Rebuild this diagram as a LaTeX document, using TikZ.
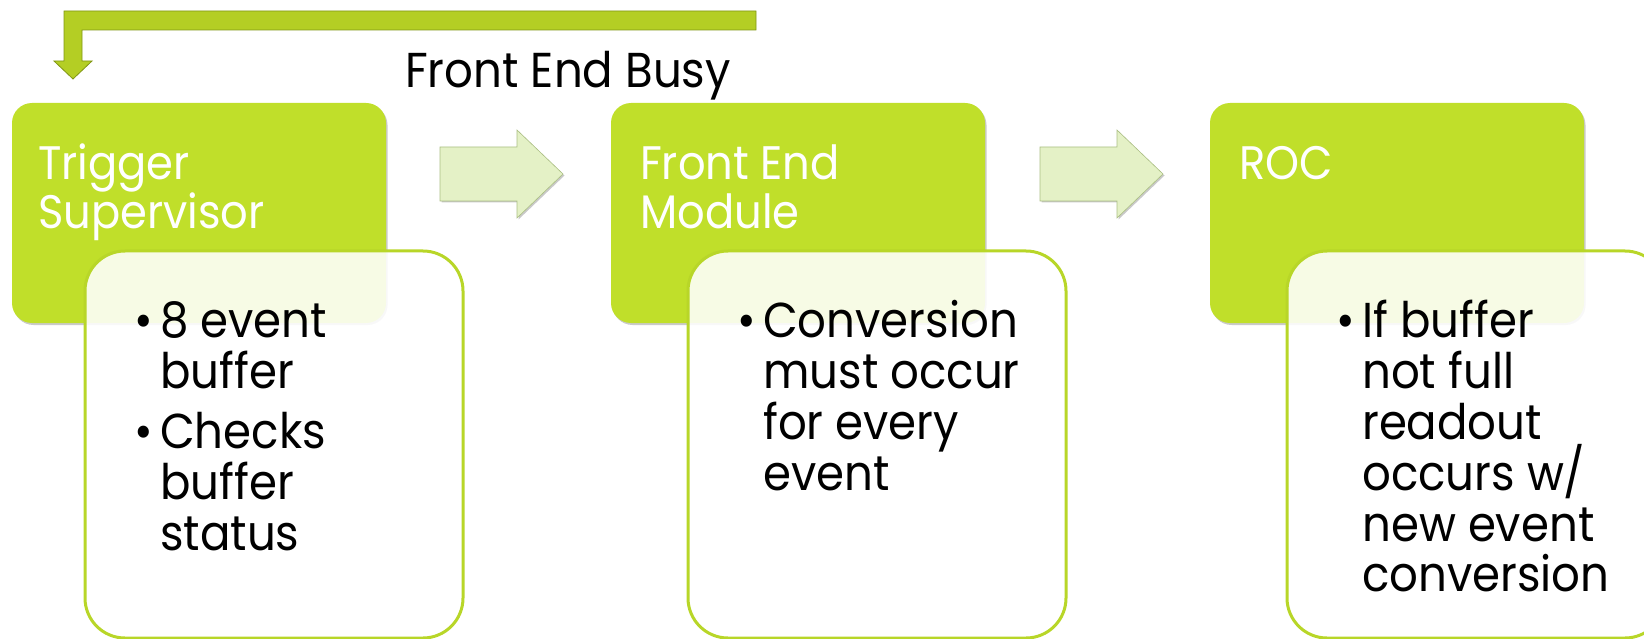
\documentclass[tikz,border=0pt]{standalone}
\usepackage{fontspec}
\setmainfont{Poppins}[FakeStretch=0.92]
\usetikzlibrary{shadows}

\definecolor{leaf}{RGB}{192,223,42}
\definecolor{rim}{RGB}{184,214,40}
\definecolor{bar}{RGB}{180,206,36}
\definecolor{bardark}{RGB}{128,150,20}
\definecolor{pale}{RGB}{228,241,198}
\definecolor{paleedge}{RGB}{170,190,130}

\tikzset{
  headbox/.style={rectangle, fill=leaf, rounded corners=20pt, inner sep=0pt, outer sep=0pt,
    minimum width=374pt, minimum height=220pt,
    drop shadow={shadow xshift=1.5pt, shadow yshift=-2pt, opacity=0.35, fill=black!60}},
  card/.style={rectangle, fill=white, fill opacity=0.88, draw=rim, draw opacity=1,
    line width=3pt, rounded corners=40pt, inner sep=0pt, outer sep=0pt,
    minimum width=378pt, minimum height=387pt},
  title/.style={anchor=base west, inner sep=0pt, text=white,
    font=\fontsize{47}{49}\selectfont},
  body/.style={anchor=base west, inner sep=0pt, text=black,
    font=\fontsize{49}{51}\selectfont},
  chevron/.style={fill=pale, draw=paleedge, line width=0.6pt,
    drop shadow={shadow xshift=1.5pt, shadow yshift=-1.5pt, opacity=0.3, fill=black!70}},
  busybar/.style={fill=bar, draw=bardark, line width=0.8pt}
}
% top-aligned block of lines whose baseline is the first line
\newcommand{\lines}[1]{\parbox[t]{360pt}{\raggedright #1}}
\newcommand{\itm}{\leavevmode\llap{\textbullet\hspace{7pt}}}

\begin{document}
\begin{tikzpicture}[x=1pt, y=-1pt]
\useasboundingbox (0,0) rectangle (1644,639);

% feedback bar: Front End Busy back to the trigger supervisor
\draw[busybar] (756,11) -- (756,30) -- (82,30) -- (82,61) -- (92,61) -- (73,79)
  -- (54,61) -- (64,61) -- (64,11) -- cycle;
\node[anchor=base west, inner sep=0pt, font=\fontsize{49}{51}\selectfont] (busy) at (405,88) {Front End Busy};

% the three stages
\node[headbox] (ts)  at (199,213) {};
\node[headbox] (fem) at (798,213) {};
\node[headbox] (roc) at (1397,213) {};

% block arrows between stages
\foreach \x in {440,1040} {
  \draw[chevron] (\x,147) -- (\x+77,147) -- (\x+77,130) -- (\x+123,174)
    -- (\x+77,218) -- (\x+77,201) -- (\x,201) -- cycle;
}

% stage titles
\node[title] (tsT)  at (38,180)   {\lines{Trigger\\Supervisor}};
\node[title] (femT) at (640,180)  {\lines{Front End\\Module}};
\node[title] (rocT) at (1239,180) {\lines{ROC}};

% detail cards
\node[card] (tsC)  at (274,444.5)  {};
\node[card] (femC) at (877,444.5)  {};
\node[card] (rocC) at (1476,444.5) {};

\node[body] (tsB)  at (160,337)  {\lines{\itm 8 event\\buffer\\[9pt]\itm Checks\\buffer\\status}};
\node[body] (femB) at (763,337)  {\lines{\itm Conversion\\must occur\\for every\\event}};
\node[body] (rocB) at (1362,337) {\lines{\itm If buffer\\not full\\readout\\occurs w/\\new event\\conversion}};
\end{tikzpicture}
\end{document}
